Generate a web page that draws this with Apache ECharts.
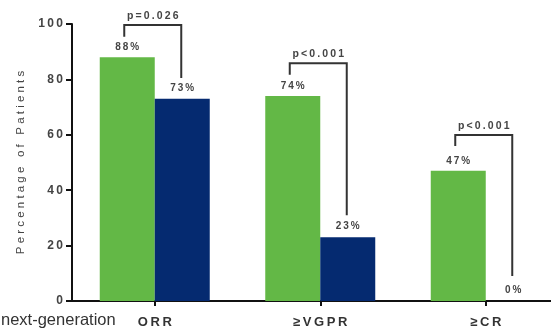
<!DOCTYPE html>
<html>
<head>
<meta charset="utf-8">
<script src="https://cdn.jsdelivr.net/npm/echarts@6/dist/echarts.min.js"></script>
<style>
  html, body { margin: 0; padding: 0; background: #fff; }
  #chart { width: 551px; height: 331px; }
</style>
</head>
<body>
<div id="chart"></div>
<script>
// Response categories and the two arms
const categories = ['ORR', '\u2265VGPR', '\u2265CR'];
const greenValues = [88, 74, 47];
const navyValues = [73, 23, 0];
const yTicks = [0, 20, 40, 60, 80, 100];

// Significance brackets: bar top level, left leg end, right leg end
const pLabels = ['p=0.026', 'p<0.001', 'p<0.001'];
const bracketTop = [99.6, 85.8, 59.9];
const bracketLeftEnd = [95.4, 81.7, 56];
const bracketRightEnd = [80.5, 31, 9];

const GREEN = '#63b846';
const NAVY = '#052a70';
const TEXT = '#444';
const BAR_W = 55;

// spread characters apart with thin / normal spaces
const spread = (s) => s.split('').join('\u2009');
const spreadWide = (s) => s.split('').join(' ');

const chart = echarts.init(document.getElementById('chart'), null, { renderer: 'canvas' });

const bracketData = categories.map((c, i) => [i, bracketTop[i], bracketLeftEnd[i], bracketRightEnd[i]]);

chart.setOption({
  animation: false,
  backgroundColor: '#fff',
  textStyle: { fontFamily: 'Liberation Sans, Arial, sans-serif' },
  grid: { left: 72, top: 24, width: 496.5, height: 277, outerBoundsMode: 'none', containLabel: false },
  xAxis: {
    type: 'category',
    data: categories,
    axisLine: { lineStyle: { color: '#111', width: 2 } },
    axisTick: { show: true, alignWithLabel: true, length: 5, lineStyle: { color: '#111', width: 2 } },
    axisLabel: {
      margin: 15, fontSize: 13, fontWeight: 'bold', color: '#333',
      formatter: (v) => spread(v)
    },
    splitLine: { show: false }
  },
  yAxis: {
    type: 'value',
    min: yTicks[0], max: yTicks[yTicks.length - 1], interval: yTicks[1] - yTicks[0],
    name: spreadWide('Percentage of Patients'),
    nameLocation: 'middle',
    nameRotate: 90,
    nameGap: 44,
    nameTextStyle: { fontSize: 11.5, color: TEXT },
    axisLine: { show: true, lineStyle: { color: '#111', width: 2 } },
    axisTick: { show: true, length: 6, lineStyle: { color: '#111', width: 2 } },
    axisLabel: {
      margin: 9, fontSize: 12, fontWeight: 'bold', color: TEXT,
      formatter: (v) => spread(String(v))
    },
    splitLine: { show: false }
  },
  series: [
    {
      type: 'bar',
      data: greenValues,
      barWidth: BAR_W,
      barGap: '0%',
      itemStyle: { color: GREEN },
      label: {
        show: true, position: 'top', distance: 5,
        fontSize: 10, fontWeight: 'bold', color: TEXT,
        formatter: (p) => spread(p.value + '%')
      }
    },
    {
      type: 'bar',
      data: navyValues,
      barWidth: BAR_W,
      barGap: '0%',
      itemStyle: { color: NAVY },
      label: {
        show: true, position: 'top', distance: 6,
        fontSize: 10, fontWeight: 'bold', color: TEXT,
        formatter: (p) => spread(p.value + '%')
      }
    },
    {
      type: 'custom',
      clip: false,
      data: bracketData,
      renderItem: (params, api) => {
        const i = api.value(0);
        const center = api.coord([i, 0])[0];
        const xl = center - BAR_W / 2 - 3;
        const xr = center + BAR_W / 2 - 1;
        const yTop = api.coord([i, api.value(1)])[1];
        const yL = api.coord([i, api.value(2)])[1];
        const yR = api.coord([i, api.value(3)])[1];
        return {
          type: 'group',
          children: [
            {
              type: 'polyline',
              shape: { points: [[xl, yL], [xl, yTop], [xr, yTop], [xr, yR]] },
              style: { stroke: '#333', lineWidth: 2, fill: null }
            },
            {
              type: 'text',
              x: (xl + xr) / 2,
              y: yTop - 9,
              style: {
                text: spread(pLabels[params.dataIndex]),
                fill: TEXT,
                font: 'bold 10.5px "Liberation Sans", Arial, sans-serif',
                align: 'center',
                verticalAlign: 'middle'
              }
            }
          ]
        };
      }
    }
  ],
  graphic: [
    {
      type: 'text',
      left: 1,
      top: 312,
      style: {
        text: 'next-generation',
        fill: '#333',
        font: '16.5px "Liberation Sans", Arial, sans-serif'
      }
    }
  ]
});
</script>
</body>
</html>
